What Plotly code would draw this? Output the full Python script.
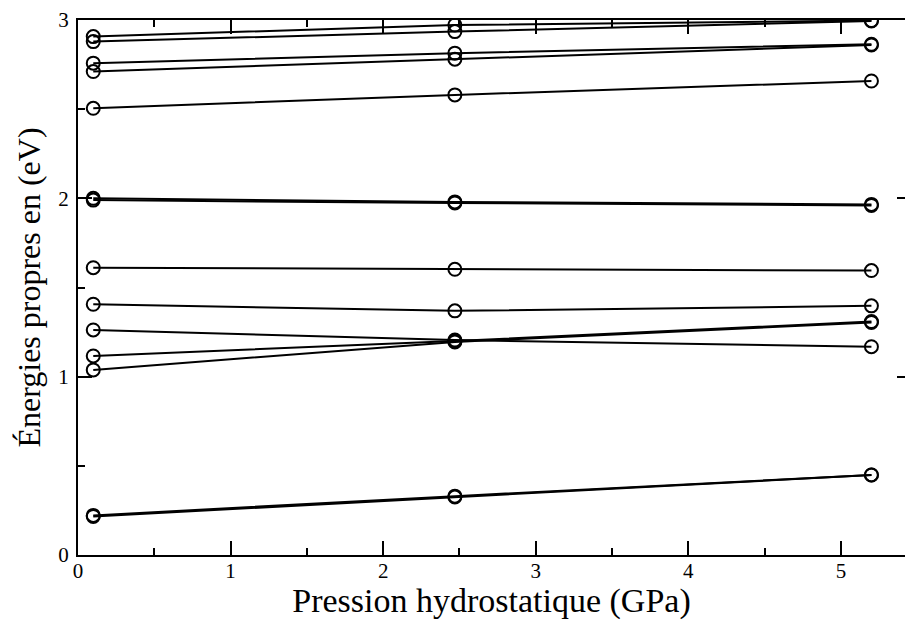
import plotly.graph_objects as go

# Hydrostatic pressure (GPa) at which the eigenvalues were computed
pressure = [0.1, 2.47, 5.2]

# Eigen-energies (eV) for each level, one list per level
level_01 = [2.907, 2.972, 2.997]
level_02 = [2.879, 2.935, 2.995]
level_03 = [2.758, 2.814, 2.864]
level_04 = [2.711, 2.780, 2.860]
level_05 = [2.505, 2.580, 2.658]
level_06 = [2.000, 1.980, 1.966]
level_07 = [1.990, 1.974, 1.960]
level_08 = [1.611, 1.602, 1.595]
level_09 = [1.406, 1.369, 1.397]
level_10 = [1.262, 1.205, 1.168]
level_11 = [1.116, 1.200, 1.309]
level_12 = [1.038, 1.195, 1.304]
level_13 = [0.222, 0.330, 0.449]
level_14 = [0.216, 0.325, 0.449]

levels = [level_01, level_02, level_03, level_04, level_05, level_06, level_07,
          level_08, level_09, level_10, level_11, level_12, level_13, level_14]

x_ticks = [0, 1, 2, 3, 4, 5]
y_ticks = [0, 1, 2, 3]

FONT = "Liberation Serif"

fig = go.Figure()
for energies in levels:
    fig.add_trace(go.Scatter(
        x=pressure, y=energies, mode="lines+markers",
        line=dict(color="black", width=2),
        marker=dict(symbol="circle-open", size=13, color="black",
                    line=dict(width=2, color="black")),
        showlegend=False, hoverinfo="skip",
    ))

# empty trace so the right-hand tick axis is drawn
fig.add_trace(go.Scatter(x=[], y=[], yaxis="y2", showlegend=False, hoverinfo="skip"))

axis_common = dict(
    showgrid=False, zeroline=False,
    showline=True, linecolor="black", linewidth=2,
    ticks="inside", ticklen=14, tickwidth=2, tickcolor="black",
    tickfont=dict(family=FONT, size=21, color="black"),
    minor=dict(ticks="inside", ticklen=7, tickwidth=2, tickcolor="black", dtick=0.5, showgrid=False),
)

fig.update_layout(
    width=905, height=620,
    margin=dict(l=78, r=0, t=20, b=65),
    paper_bgcolor="white", plot_bgcolor="white",
    xaxis=dict(
        range=[0, 5.42], tickvals=x_ticks, mirror="ticks", ticklabelstandoff=-4,
        title=dict(text="Pression hydrostatique (GPa)",
                   font=dict(family=FONT, size=34, color="black"), standoff=0),
        **axis_common,
    ),
    yaxis=dict(
        range=[0, 3], tickvals=y_ticks, mirror=False, ticklabelstandoff=3,
        title=dict(text="Énergies propres en (eV)",
                   font=dict(family=FONT, size=32, color="black"), standoff=8),
        **axis_common,
    ),
    yaxis2=dict(
        overlaying="y", side="right", range=[0, 3], tickvals=y_ticks,
        showline=False, showgrid=False, zeroline=False, showticklabels=False,
        ticks="inside", ticklen=8, tickwidth=2, tickcolor="black",
    ),
)

fig.write_html("out.html")
